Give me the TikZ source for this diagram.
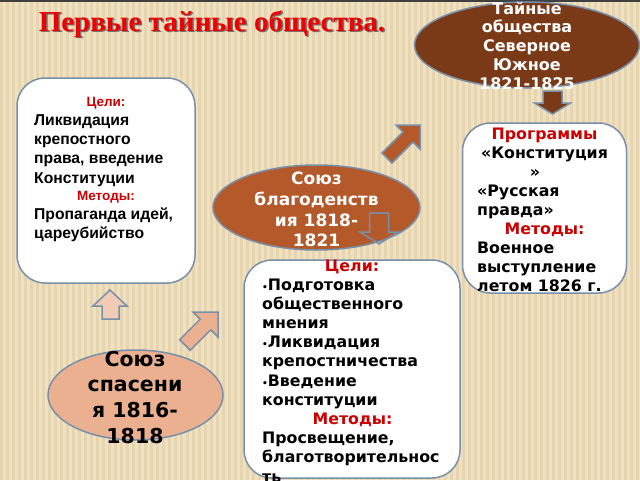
\documentclass[tikz,border=0pt]{standalone}
\usepackage{fontspec}
\setmainfont{DejaVu Sans}
\newfontfamily\arialf{Liberation Sans}
\newfontfamily\timesf{Liberation Serif}
\usetikzlibrary{shapes.geometric}
\definecolor{bgbase}{HTML}{EFE1C4}
\definecolor{bgstripe}{HTML}{E7D5B0}
\definecolor{edge}{HTML}{7790AA}
\definecolor{darkbrown}{HTML}{7A3A18}
\definecolor{sienna}{HTML}{B4592A}
\definecolor{salmon}{HTML}{EBB090}
\definecolor{lightsalmon}{HTML}{F2CBB5}
\definecolor{lblred}{HTML}{CC0000}
\definecolor{titlered}{HTML}{EE0000}
\begin{document}
\begin{tikzpicture}[x=1pt,y=-1pt,
  box/.style={draw=edge, line width=1.5pt, fill=white, rounded corners=28pt, inner sep=0pt, rectangle},
  oval/.style={draw=edge, line width=1.5pt, ellipse, inner sep=0pt},
  arr/.style={draw=edge, line width=1.5pt, line join=miter},
  ln/.style={inner sep=0pt, anchor=base west},
  lc/.style={inner sep=0pt, anchor=base},
  lefttxt/.style={font=\arialf\bfseries\fontsize{15.7}{18}\selectfont},
  leftred/.style={font=\arialf\bfseries\fontsize{13.5}{15}\selectfont, text=lblred},
  boxtxt/.style={font=\bfseries\fontsize{15.8}{18}\selectfont},
  boxred/.style={font=\bfseries\fontsize{15.8}{18}\selectfont, text=lblred},
  toptxt/.style={font=\bfseries\fontsize{16}{18}\selectfont, text=white},
  midtxt/.style={font=\bfseries\fontsize{17}{20}\selectfont, text=white},
  lowtxt/.style={font=\bfseries\fontsize{20.5}{24}\selectfont, text=black},
  titletxt/.style={font=\timesf\bfseries\fontsize{29}{30}\selectfont},
]
\useasboundingbox (0,0) rectangle (640,480);
% background
\fill[bgbase] (0,0) rectangle (640,480);
\foreach \sx in {0,6,...,636} \fill[bgstripe] (\sx,0) rectangle (\sx+3,480);
\fill[black!75] (0,0) rectangle (640,1.5);

% title
\node[lc, titletxt, text=black!55] (titleshadow) at (213.5,32.5) {Первые тайные общества.};
\node[lc, titletxt, text=titlered] (title) at (212,31) {Первые тайные общества.};

% boxes
\node[box, minimum width=178pt, minimum height=205pt] (leftbox) at (106,180.5) {};
\node[box, minimum width=164pt, minimum height=170pt] (rightbox) at (544.5,208) {};
\node[box, minimum width=216pt, minimum height=218pt] (midbox) at (352,369) {};

% ellipses
\node[oval, fill=darkbrown, minimum width=225pt, minimum height=86pt] (topoval) at (527,45) {};
\node[oval, fill=sienna, minimum width=207pt, minimum height=85pt] (midoval) at (316.5,207.5) {};
\node[oval, fill=salmon, minimum width=175pt, minimum height=90pt] (lowoval) at (135.5,395) {};

% block arrows
\filldraw[arr, fill=lightsalmon] (110,290) -- (127,306) -- (119,306) -- (119,319) -- (102,319) -- (102,306) -- (93,306) -- cycle;
\begin{scope}[shift={(218,312)}]
\filldraw[arr, fill=salmon] (0,0) -- (0,25) -- (-7.2,17.8) -- (-27.7,38.3) -- (-38.3,27.7) -- (-17.8,7.2) -- (-25,0) -- cycle;
\end{scope}
\begin{scope}[shift={(420,125)}]
\filldraw[arr, fill=sienna] (0,0) -- (0,24) -- (-7,17) -- (-28,38) -- (-38,28) -- (-17,7) -- (-24,0) -- cycle;
\end{scope}
\filldraw[arr, fill=darkbrown] (552.5,114) -- (570.5,103) -- (562,103) -- (562,91) -- (543,91) -- (543,103) -- (534.5,103) -- cycle;
\draw[arr] (379,244) -- (398,232) -- (388.5,232) -- (388.5,213) -- (369.5,213) -- (369.5,232) -- (360,232) -- cycle;

% top oval text
\node[lc, toptxt] (t1) at (527,14) {Тайные};
\node[lc, toptxt] (t2) at (527,32.75) {общества};
\node[lc, toptxt] (t3) at (527,51.5) {Северное};
\node[lc, toptxt] (t4) at (527,70.25) {Южное};
\node[lc, toptxt] (t5) at (527,89) {1821-1825};

% middle oval text
\node[lc, midtxt] (m1) at (316.5,184.5) {Союз};
\node[lc, midtxt] (m2) at (316.5,205.3) {благоденств};
\node[lc, midtxt] (m3) at (316.5,226) {ия 1818-};
\node[lc, midtxt] (m4) at (316.5,246.8) {1821};

% lower oval text
\node[lc, lowtxt] (s1) at (135,366) {Союз};
\node[lc, lowtxt] (s2) at (135,391.7) {спасени};
\node[lc, lowtxt] (s3) at (135,417.3) {я 1816-};
\node[lc, lowtxt] (s4) at (135,443) {1818};

% left box text
\node[lc, leftred] (lg) at (106,106) {Цели:};
\node[ln, lefttxt] (l1) at (34,125) {Ликвидация};
\node[ln, lefttxt] (l2) at (34,144.3) {крепостного};
\node[ln, lefttxt] (l3) at (34,163.6) {права, введение};
\node[ln, lefttxt] (l4) at (34,183) {Конституции};
\node[lc, leftred] (lm) at (106,200) {Методы:};
\node[ln, lefttxt] (l5) at (34,219) {Пропаганда идей,};
\node[ln, lefttxt] (l6) at (34,238) {цареубийство};

% right box text
\node[lc, boxred] (rp) at (544.5,139) {Программы};
\node[lc, boxtxt] (r1) at (544.5,158) {«Конституция};
\node[lc, boxtxt] (r2) at (535,177) {»};
\node[ln, boxtxt] (r3) at (477,196) {«Русская};
\node[ln, boxtxt] (r4) at (477,215) {правда»};
\node[lc, boxred] (rm) at (544.5,234) {Методы:};
\node[ln, boxtxt] (r5) at (477,253) {Военное};
\node[ln, boxtxt] (r6) at (477,272) {выступление};
\node[ln, boxtxt] (r7) at (477,291) {летом 1826 г.};

% middle box text
\node[lc, boxred] (bg) at (352,271) {Цели:};
\node[ln, boxtxt] (b1) at (262,290) {{\fontsize{9}{9}\selectfont•}Подготовка};
\node[ln, boxtxt] (b2) at (262,309.2) {общественного};
\node[ln, boxtxt] (b3) at (262,328.4) {мнения};
\node[ln, boxtxt] (b4) at (262,347.6) {{\fontsize{9}{9}\selectfont•}Ликвидация};
\node[ln, boxtxt] (b5) at (262,366.8) {крепостничества};
\node[ln, boxtxt] (b6) at (262,386) {{\fontsize{9}{9}\selectfont•}Введение};
\node[ln, boxtxt] (b7) at (262,405.2) {конституции};
\node[lc, boxred] (bm) at (352.5,424.4) {Методы:};
\node[ln, boxtxt] (b8) at (262,443.6) {Просвещение,};
\node[ln, boxtxt] (b9) at (262,462.8) {благотворительнос};
\node[ln, boxtxt] (b10) at (262,482) {ть};
\end{tikzpicture}
\end{document}
